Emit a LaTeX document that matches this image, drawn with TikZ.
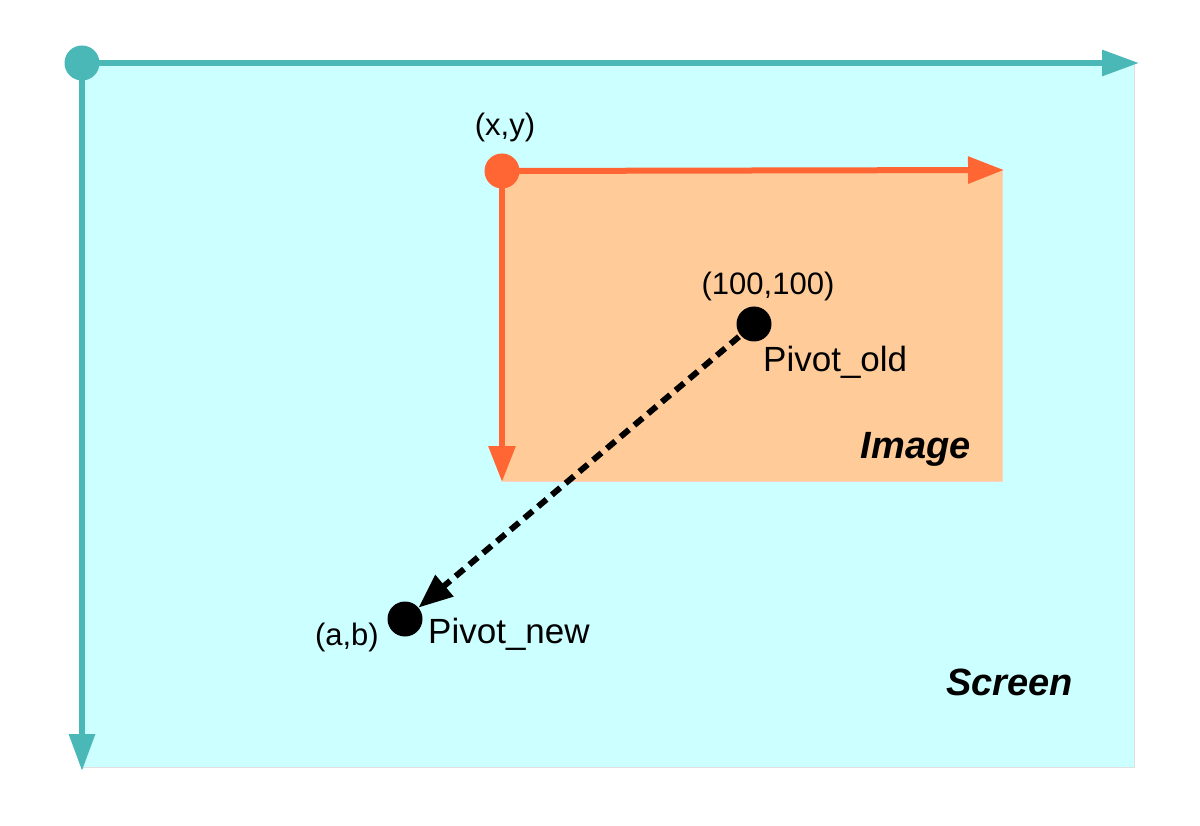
\documentclass[tikz,border=0pt]{standalone}
\usepackage{fontspec}
\setmainfont{Liberation Sans}
\usetikzlibrary{arrows.meta}
\definecolor{teal1}{HTML}{4BB8B8}
\definecolor{scrfill}{HTML}{CCFFFF}
\definecolor{org}{HTML}{FF6633}
\definecolor{imgfill}{HTML}{FFCC99}
\tikzset{
  axisteal/.style={draw=teal1, line width=6pt, -{Triangle[length=37pt,width=25pt]}},
  axisorg/.style={draw=org, line width=6pt, -{Triangle[length=36pt,width=26pt]}},
  dot/.style={circle, inner sep=0pt, minimum size=#1},
  lbl/.style={font=\fontsize{31}{36}\selectfont, inner sep=0pt},
  plbl/.style={font=\fontsize{35}{40}\selectfont, inner sep=0pt},
  blbl/.style={font=\fontsize{38}{44}\selectfont\bfseries\itshape, inner sep=0pt},
  move/.style={draw=black, line width=6pt, dash pattern=on 11pt off 7pt, -{Triangle[length=34pt,width=27pt]}, shorten <=2pt}
}
\begin{document}
\begin{tikzpicture}[x=1pt,y=-1pt]
\useasboundingbox (0,0) rectangle (1200,826);
% screen
\filldraw[fill=scrfill, draw=gray!25, line width=1pt] (82,63) rectangle (1134,767);
% image
\filldraw[fill=imgfill, draw=org!30, line width=1pt] (502,170) rectangle (1002,481);
\coordinate (sx) at (1139,63);
\coordinate (sy) at (82,771);
\coordinate (ix) at (1004,170);
\coordinate (iy) at (502,482);
\node[dot=35pt] (so) at (82,63) {};
\node[dot=35pt] (io) at (502,171) {};
\draw[axisteal] (so.center) -- (sx);
\draw[axisteal] (so.center) -- (sy);
\draw[axisorg] (io.center) -- (ix);
\draw[axisorg] (io.center) -- (iy);
\fill[teal1] (so) circle (17.5pt);
\fill[org] (io) circle (17.5pt);
% pivots
\node[dot=35pt, fill=black] (po) at (754,324) {};
\node[dot=35pt, fill=black] (pn) at (405,619) {};
\draw[move] (po) -- (pn);
% labels
\node[lbl, anchor=base] (lxy) at (505,136) {(x,y)};
\node[lbl, anchor=base] (l100) at (768,295) {(100,100)};
\node[plbl, anchor=base west] (lpo) at (763,371) {Pivot\_old};
\node[plbl, anchor=base west] (lpn) at (428,643) {Pivot\_new};
\node[lbl, anchor=base east] (lab) at (379,645) {(a,b)};
\node[blbl, anchor=base east] (limg) at (971,458) {Image};
\node[blbl, anchor=base east] (lscr) at (1073,695) {Screen};
\end{tikzpicture}
\end{document}
